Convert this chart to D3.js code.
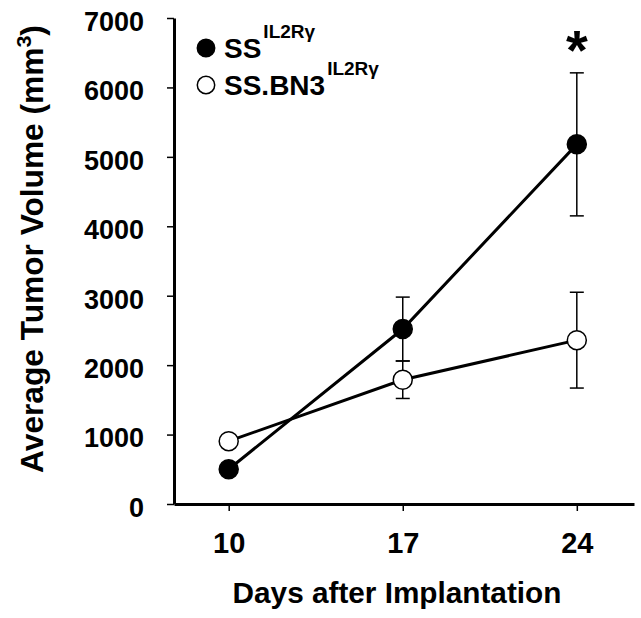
<!DOCTYPE html>
<html><head><meta charset="utf-8">
<script src="https://cdn.jsdelivr.net/npm/d3@7"></script>
<style>body{margin:0;background:#fff}svg{display:block}text{font-family:"Liberation Sans",Arial,sans-serif;font-weight:bold}</style>
</head><body>
<svg id="c" width="641" height="618"></svg>
<script>
const days = [10, 17, 24];
const yTicks = [0, 1000, 2000, 3000, 4000, 5000, 6000, 7000];
const ssMean = [500, 2520, 5180];
const ssErr = [70, 460, 1030];
const bn3Mean = [905, 1790, 2360];
const bn3Err = [70, 270, 690];
const seriesNames = ["SS", "SS.BN3"];
const superscript = "IL2Rγ";

const svg = d3.select("#c");
const x = d3.scaleLinear().domain([7.8, 26.3]).range([174, 634]);
const y = d3.scaleLinear().domain([0, 7000]).range([504, 18]);

// axes
const yAxis = svg.append("g").attr("transform", "translate(174,0)")
  .call(d3.axisLeft(y).tickValues(yTicks).tickFormat(d3.format("d")).tickSize(7).tickSizeOuter(0).tickPadding(23));
const xAxis = svg.append("g").attr("transform", "translate(0,504)")
  .call(d3.axisBottom(x).tickValues(days).tickFormat(d3.format("d")).tickSize(7).tickSizeOuter(0).tickPadding(21));
[yAxis, xAxis].forEach(g => {
  g.attr("font-family", null).attr("font-size", null);
  g.select(".domain").attr("stroke", "#000").attr("stroke-width", 3);
  g.selectAll(".tick line").attr("stroke", "#000").attr("stroke-width", 1.5);
  g.selectAll(".tick text").attr("fill", "#000");
});
yAxis.selectAll(".tick text").style("font-size", "27px").attr("dy", "0.46em");
xAxis.selectAll(".tick text").style("font-size", "29px");

const series = [
  {mean: ssMean, err: ssErr, fill: "#000"},
  {mean: bn3Mean, err: bn3Err, fill: "#fff"}
];
const line = d3.line().x(d => x(d[0])).y(d => y(d[1]));
const plot = svg.append("g");
// error bars
series.forEach(s => {
  days.forEach((d, i) => {
    const g = plot.append("g").attr("stroke", "#000").attr("stroke-width", 1.5);
    g.append("line").attr("x1", x(d)).attr("x2", x(d)).attr("y1", y(s.mean[i] - s.err[i])).attr("y2", y(s.mean[i] + s.err[i]));
    [s.mean[i] - s.err[i], s.mean[i] + s.err[i]].forEach(v =>
      g.append("line").attr("x1", x(d) - 7).attr("x2", x(d) + 7).attr("y1", y(v)).attr("y2", y(v)));
  });
});
series.forEach(s => {
  plot.append("path").attr("d", line(days.map((d, i) => [d, s.mean[i]])))
    .attr("fill", "none").attr("stroke", "#000").attr("stroke-width", 3);
});
series.forEach(s => {
  days.forEach((d, i) => {
    plot.append("circle").attr("cx", x(d)).attr("cy", y(s.mean[i])).attr("r", 9.5)
      .attr("fill", s.fill).attr("stroke", "#000").attr("stroke-width", 1.5);
  });
});

// asterisk
svg.append("text").attr("x", x(24)).attr("y", 69).attr("text-anchor", "middle")
  .style("font-size", "56px").text("*");

// legend
const legY = [48, 85];
series.forEach((s, i) => {
  svg.append("circle").attr("cx", 206).attr("cy", legY[i]).attr("r", 8.7)
    .attr("fill", s.fill).attr("stroke", "#000").attr("stroke-width", 1.5);
  const t = svg.append("text").attr("x", 224).attr("y", legY[i] + 10).style("font-size", "28px");
  t.append("tspan").text(seriesNames[i]);
  t.append("tspan").attr("dx", 2).attr("dy", -20).style("font-size", "19px").text(superscript);
});

// axis titles
const xt = svg.append("text").attr("text-anchor", "middle")
  .style("font-size", "29px").text("Days after Implantation");
const xw = xt.node().getComputedTextLength();
xt.attr("transform", `translate(397,603) scale(${329 / xw},1)`);

const yt = svg.append("text").attr("text-anchor", "middle").style("font-size", "31px");
yt.append("tspan").text("Average Tumor Volume (mm");
yt.append("tspan").attr("dy", -12).style("font-size", "21px").text("3");
yt.append("tspan").attr("dy", 12).text(")");
const yw = yt.node().getComputedTextLength();
yt.attr("transform", `translate(43,249) rotate(-90) scale(${448 / yw},1)`);
</script>
</body></html>
